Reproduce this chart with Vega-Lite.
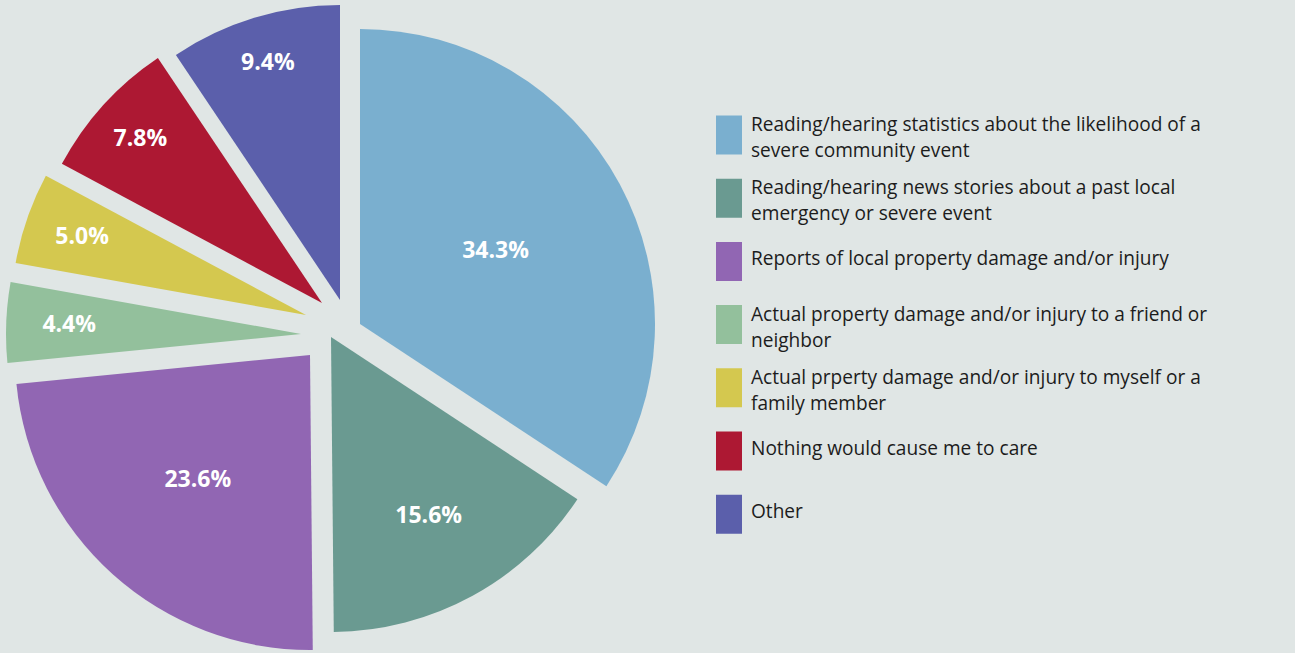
{
  "$schema": "https://vega.github.io/schema/vega-lite/v6.json",
  "width": 670,
  "height": 653,
  "autosize": {"type": "none"},
  "padding": {"left": 0, "top": 0, "right": 625, "bottom": 0},
  "background": "#e0e6e5",
  "config": {"view": {"stroke": null}, "style": {"guide-label": {"lineHeight": 26}}},
  "data": {
    "values": [
      {"category": "Reading/hearing statistics about the likelihood of a\nsevere community event", "share": 0.343, "order": 1},
      {"category": "Reading/hearing news stories about a past local\nemergency or severe event", "share": 0.156, "order": 2},
      {"category": "Reports of local property damage and/or injury", "share": 0.236, "order": 3},
      {"category": "Actual property damage and/or injury to a friend or\nneighbor", "share": 0.044, "order": 4},
      {"category": "Actual prperty damage and/or injury to myself or a\nfamily member", "share": 0.05, "order": 5},
      {"category": "Nothing would cause me to care", "share": 0.078, "order": 6},
      {"category": "Other", "share": 0.094, "order": 7}
    ]
  },
  "encoding": {
    "theta": {"field": "share", "type": "quantitative", "stack": true},
    "order": {"field": "order", "type": "quantitative"},
    "detail": {"field": "category", "type": "nominal"}
  },
  "layer": [
    {
      "mark": {"type": "arc", "outerRadius": 295, "xOffset": 25, "yOffset": -2.5},
      "encoding": {
        "color": {
          "field": "category", "type": "nominal",
          "scale": {
            "domain": [
              "Reading/hearing statistics about the likelihood of a\nsevere community event",
              "Reading/hearing news stories about a past local\nemergency or severe event",
              "Reports of local property damage and/or injury",
              "Actual property damage and/or injury to a friend or\nneighbor",
              "Actual prperty damage and/or injury to myself or a\nfamily member",
              "Nothing would cause me to care",
              "Other"
            ],
            "range": ["#7aafcf", "#6a9a91", "#9166b3", "#93c09c", "#d4c84f", "#ad1833", "#5b5fab"]
          },
          "legend": {
            "title": null,
            "orient": "none",
            "legendX": 716,
            "legendY": 122,
            "padding": 0,
            "symbolType": "M-1,-1.5H1V1.5H-1Z",
            "symbolSize": 676,
            "symbolStrokeWidth": 0,
            "symbolOpacity": 1,
            "labelFont": "Open Sans",
            "labelFontSize": 19.1,
            "labelColor": "#1c1c1c",
            "labelOffset": 9,
            "labelLimit": 0,
            "labelExpr": "split(datum.label, '\\n')",
            "rowPadding": 16.2,
            "gridAlign": "all",
            "encoding": {
              "labels": {
                "dy": {"condition": {"test": "indexof(datum.value, '\\n') >= 0", "value": -10}, "value": -2}
              }
            }
          }
        },
        "opacity": {"condition": {"test": "datum.order == 1", "value": 1}, "value": 0}
      }
    },
    {
      "mark": {"type": "arc", "outerRadius": 295, "xOffset": -4, "yOffset": 10.5},
      "encoding": {"color": {"field": "category", "type": "nominal"}, "opacity": {"condition": {"test": "datum.order == 2", "value": 1}, "value": 0}}
    },
    {
      "mark": {"type": "arc", "outerRadius": 295, "xOffset": -25, "yOffset": 28.5},
      "encoding": {"color": {"field": "category", "type": "nominal"}, "opacity": {"condition": {"test": "datum.order == 3", "value": 1}, "value": 0}}
    },
    {
      "mark": {"type": "arc", "outerRadius": 295, "xOffset": -34, "yOffset": 7.5},
      "encoding": {"color": {"field": "category", "type": "nominal"}, "opacity": {"condition": {"test": "datum.order == 4", "value": 1}, "value": 0}}
    },
    {
      "mark": {"type": "arc", "outerRadius": 295, "xOffset": -29, "yOffset": -11.5},
      "encoding": {"color": {"field": "category", "type": "nominal"}, "opacity": {"condition": {"test": "datum.order == 5", "value": 1}, "value": 0}}
    },
    {
      "mark": {"type": "arc", "outerRadius": 295, "xOffset": -13, "yOffset": -23.5},
      "encoding": {"color": {"field": "category", "type": "nominal"}, "opacity": {"condition": {"test": "datum.order == 6", "value": 1}, "value": 0}}
    },
    {
      "mark": {"type": "arc", "outerRadius": 295, "xOffset": 5, "yOffset": -26.5},
      "encoding": {"color": {"field": "category", "type": "nominal"}, "opacity": {"condition": {"test": "datum.order == 7", "value": 1}, "value": 0}}
    },
    {
      "mark": {"type": "text", "radius": 154, "xOffset": 25, "yOffset": -2.5, "color": "white", "font": "Open Sans", "fontSize": 23, "fontWeight": "bold"},
      "encoding": {"text": {"field": "share", "type": "quantitative", "format": ".1%"}, "opacity": {"condition": {"test": "datum.order == 1", "value": 1}, "value": 0}}
    },
    {
      "mark": {"type": "text", "radius": 204, "xOffset": -4, "yOffset": 10.5, "color": "white", "font": "Open Sans", "fontSize": 23, "fontWeight": "bold"},
      "encoding": {"text": {"field": "share", "type": "quantitative", "format": ".1%"}, "opacity": {"condition": {"test": "datum.order == 2", "value": 1}, "value": 0}}
    },
    {
      "mark": {"type": "text", "radius": 168, "xOffset": -25, "yOffset": 28.5, "color": "white", "font": "Open Sans", "fontSize": 23, "fontWeight": "bold"},
      "encoding": {"text": {"field": "share", "type": "quantitative", "format": ".1%"}, "opacity": {"condition": {"test": "datum.order == 3", "value": 1}, "value": 0}}
    },
    {
      "mark": {"type": "text", "radius": 232, "xOffset": -34, "yOffset": 7.5, "color": "white", "font": "Open Sans", "fontSize": 23, "fontWeight": "bold"},
      "encoding": {"text": {"field": "share", "type": "quantitative", "format": ".1%"}, "opacity": {"condition": {"test": "datum.order == 4", "value": 1}, "value": 0}}
    },
    {
      "mark": {"type": "text", "radius": 237, "xOffset": -29, "yOffset": -11.5, "color": "white", "font": "Open Sans", "fontSize": 23, "fontWeight": "bold"},
      "encoding": {"text": {"field": "share", "type": "quantitative", "format": ".1%"}, "opacity": {"condition": {"test": "datum.order == 5", "value": 1}, "value": 0}}
    },
    {
      "mark": {"type": "text", "radius": 245, "xOffset": -13, "yOffset": -23.5, "color": "white", "font": "Open Sans", "fontSize": 23, "fontWeight": "bold"},
      "encoding": {"text": {"field": "share", "type": "quantitative", "format": ".1%"}, "opacity": {"condition": {"test": "datum.order == 6", "value": 1}, "value": 0}}
    },
    {
      "mark": {"type": "text", "radius": 248, "xOffset": 5, "yOffset": -26.5, "color": "white", "font": "Open Sans", "fontSize": 23, "fontWeight": "bold"},
      "encoding": {"text": {"field": "share", "type": "quantitative", "format": ".1%"}, "opacity": {"condition": {"test": "datum.order == 7", "value": 1}, "value": 0}}
    }
  ]
}
